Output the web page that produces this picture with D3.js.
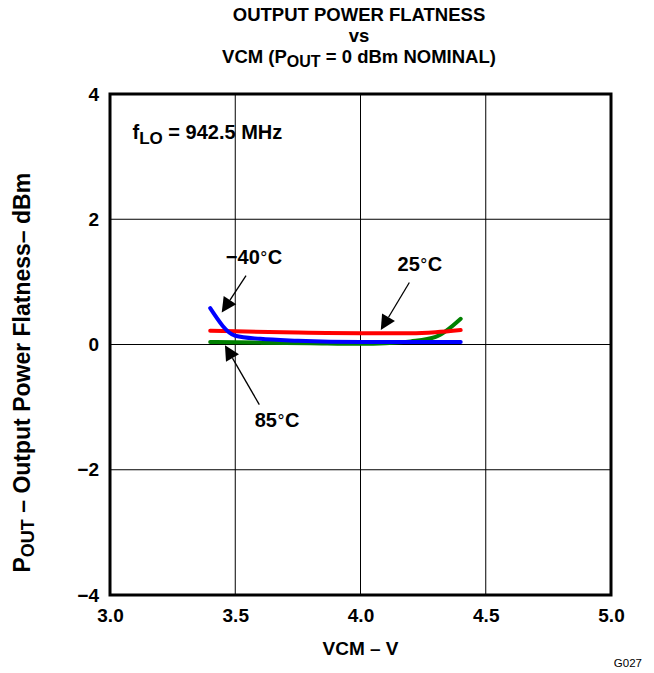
<!DOCTYPE html>
<html>
<head>
<meta charset="utf-8">
<script src="https://cdn.jsdelivr.net/npm/d3@7"></script>
<style>
  html, body { margin: 0; padding: 0; background: #fff; }
  svg { display: block; }
  text { font-family: "Liberation Sans", Arial, Helvetica, sans-serif; }
</style>
</head>
<body>
<div id="chart"></div>
<script>
// ---- data ----
const xTicks = [3.0, 3.5, 4.0, 4.5, 5.0];
const xTickLabels = ["3.0", "3.5", "4.0", "4.5", "5.0"];
const yTicks = [-4, -2, 0, 2, 4];
const yTickLabels = ["\u22124", "\u22122", "0", "2", "4"];

const seriesNames = ["85\u00B0C", "25\u00B0C", "\u221240\u00B0C"];
const seriesColors = ["#008000", "#ff0000", "#0000ff"];

const vcm85 = [3.4, 3.6, 3.8, 4.0, 4.1, 4.2, 4.3, 4.4];
const flat85 = [0.04, 0.03, 0.02, 0.01, 0.02, 0.05, 0.12, 0.41];

const vcm25 = [3.4, 3.5, 3.75, 4.0, 4.2, 4.3, 4.4];
const flat25 = [0.22, 0.21, 0.19, 0.18, 0.18, 0.195, 0.23];

const vcmM40 = [3.4, 3.5, 3.6, 3.75, 4.0, 4.2, 4.4];
const flatM40 = [0.58, 0.14, 0.09, 0.06, 0.04, 0.04, 0.04];

// annotation labels (data coordinates)
const labelText = ["\u221240", "25", "85"];
const labelX = [3.575, 4.237, 3.667];
const labelY = [1.28, 1.18, -1.31];
const arrowFrom = [[3.543, 1.10], [4.195, 0.99], [3.596, -0.96]];
const arrowTo = [[3.446, 0.51], [4.081, 0.23], [3.459, -0.01]];

// ---- layout ----
const W = 654, H = 673;
const mLeft = 110, mRight = 611, mTop = 94, mBottom = 595;

const svg = d3.select("#chart").append("svg")
  .attr("width", W).attr("height", H);

const x = d3.scaleLinear().domain([3.0, 5.0]).range([mLeft, mRight]);
const y = d3.scaleLinear().domain([-4, 4]).range([mBottom, mTop]);

// grid
const grid = svg.append("g");
grid.selectAll("line.v").data(xTicks.slice(1, -1)).enter().append("line")
  .attr("x1", d => x(d)).attr("x2", d => x(d))
  .attr("y1", mTop).attr("y2", mBottom)
  .attr("stroke", "#000").attr("stroke-width", 1);
grid.selectAll("line.h").data(yTicks.slice(1, -1)).enter().append("line")
  .attr("y1", d => y(d)).attr("y2", d => y(d))
  .attr("x1", mLeft).attr("x2", mRight)
  .attr("stroke", "#000").attr("stroke-width", 1);

// axes (labels only, via d3 axes)
const xAxis = d3.axisBottom(x).tickValues(xTicks)
  .tickFormat((d, i) => xTickLabels[i]).tickSize(0).tickPadding(14);
const gx = svg.append("g").attr("transform", `translate(0,${mBottom})`).call(xAxis);
gx.select(".domain").remove();
gx.selectAll("text").attr("font-size", 19).attr("font-weight", "bold")
  .attr("fill", "#000").attr("font-family", "Liberation Sans, Arial, sans-serif");

const yAxis = d3.axisLeft(y).tickValues(yTicks)
  .tickFormat((d, i) => yTickLabels[i]).tickSize(0).tickPadding(11);
const gy = svg.append("g").attr("transform", `translate(${mLeft},0)`).call(yAxis);
gy.select(".domain").remove();
gy.selectAll("text").attr("font-size", 19).attr("font-weight", "bold")
  .attr("fill", "#000").attr("font-family", "Liberation Sans, Arial, sans-serif");

// data lines
const series = [
  { xs: vcm85, ys: flat85 },
  { xs: vcm25, ys: flat25 },
  { xs: vcmM40, ys: flatM40 }
];
const line = d3.line().x(d => x(d[0])).y(d => y(d[1])).curve(d3.curveMonotoneX);
series.forEach((s, i) => {
  const pts = s.xs.map((v, j) => [v, s.ys[j]]);
  svg.append("path").datum(pts)
    .attr("d", line)
    .attr("fill", "none")
    .attr("stroke", seriesColors[i])
    .attr("stroke-width", 4)
    .attr("stroke-linejoin", "round")
    .attr("stroke-linecap", "round");
});

// frame
svg.append("rect")
  .attr("x", mLeft).attr("y", mTop)
  .attr("width", mRight - mLeft).attr("height", mBottom - mTop)
  .attr("fill", "none").attr("stroke", "#000").attr("stroke-width", 3);

// annotations
labelText.forEach((t, i) => {
  const tx = svg.append("text")
    .attr("x", x(labelX[i])).attr("y", y(labelY[i]))
    .attr("text-anchor", "middle")
    .attr("font-size", 20).attr("font-weight", "bold").attr("fill", "#000");
  tx.append("tspan").text(t);
  tx.append("tspan").attr("font-weight", "normal").attr("font-family", "DejaVu Serif, serif")
    .attr("font-size", 16).attr("dy", -1).text("\u00B0");
  tx.append("tspan").attr("dy", 1).text("C");

  const [x0, y0] = [x(arrowFrom[i][0]), y(arrowFrom[i][1])];
  const [x1, y1] = [x(arrowTo[i][0]), y(arrowTo[i][1])];
  const dx = x1 - x0, dy = y1 - y0, len = Math.hypot(dx, dy);
  const ux = dx / len, uy = dy / len;
  const hl = 15, hw = 7.5;
  const bx = x1 - ux * hl, by = y1 - uy * hl;
  svg.append("line")
    .attr("x1", x0).attr("y1", y0).attr("x2", bx).attr("y2", by)
    .attr("stroke", "#000").attr("stroke-width", 1.3);
  svg.append("path")
    .attr("d", `M${x1},${y1}L${bx - uy * hw},${by + ux * hw}L${bx + uy * hw},${by - ux * hw}Z`)
    .attr("fill", "#000");
});

// f_LO label
const fl = svg.append("text")
  .attr("x", x(3.09)).attr("y", y(3.28))
  .attr("font-size", 20).attr("font-weight", "bold").attr("fill", "#000");
fl.append("tspan").text("f");
fl.append("tspan").attr("dy", 5).attr("font-size", 17).text("LO");
fl.append("tspan").attr("dy", -5).text(" = 942.5 MHz");

// title
const cx = 359;
const tfs = 18.5;
svg.append("text").attr("x", cx).attr("y", 21).attr("text-anchor", "middle")
  .attr("font-size", tfs).attr("font-weight", "bold")
  .text("OUTPUT POWER FLATNESS");
svg.append("text").attr("x", cx).attr("y", 42).attr("text-anchor", "middle")
  .attr("font-size", tfs).attr("font-weight", "bold").text("vs");
const t3 = svg.append("text").attr("x", cx).attr("y", 63).attr("text-anchor", "middle")
  .attr("font-size", tfs).attr("font-weight", "bold");
t3.append("tspan").text("VCM (P");
t3.append("tspan").attr("dy", 4).attr("font-size", 16).text("OUT");
t3.append("tspan").attr("dy", -4).text(" = 0 dBm NOMINAL)");

// x axis title
svg.append("text").attr("x", x(4.0)).attr("y", 655).attr("text-anchor", "middle")
  .attr("font-size", 19).attr("font-weight", "bold").text("VCM \u2013 V");

// y axis title
const yl = svg.append("text")
  .attr("transform", `translate(30,${y(-0.45)}) rotate(-90)`)
  .attr("text-anchor", "middle")
  .attr("font-size", 23).attr("font-weight", "bold");
yl.append("tspan").text("P");
yl.append("tspan").attr("dy", 4).attr("font-size", 18).text("OUT");
yl.append("tspan").attr("dy", -4).text(" \u2013 Output Power Flatness\u2013 dBm");

// figure code
svg.append("text").attr("x", 642).attr("y", 667).attr("text-anchor", "end")
  .attr("font-size", 11.5).text("G027");
</script>
</body>
</html>
